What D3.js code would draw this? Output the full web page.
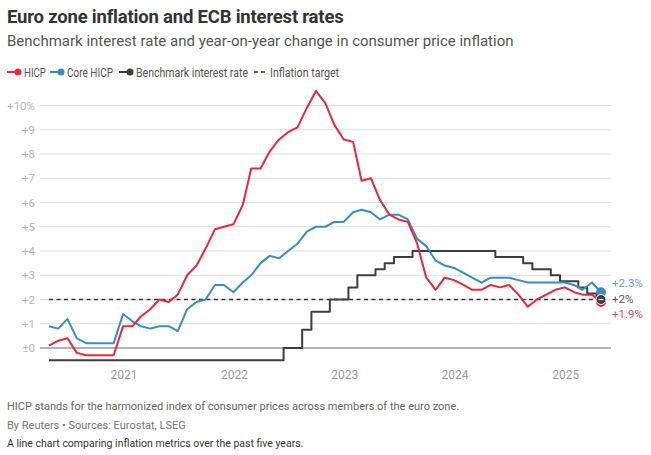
<!DOCTYPE html>
<html lang="en">
<head>
  <meta charset="UTF-8">
  <title>Euro zone inflation and ECB interest rates</title>
  <style>
    body {
      margin: 0;
      background: #fff;
      font-family: Roboto, "Noto Sans", sans-serif;
    }
    svg { display: block; }
    .grid line { stroke: #dcdcdc; stroke-width: 1; }
    .ytick { fill: #b5b5b5; font-size: 11.5px; }
    .xtick { fill: #9a9a9a; font-size: 12px; }
    .series { fill: none; stroke-width: 2; stroke-linejoin: round; }
  </style>
</head>
<body>
  <svg width="651" height="455"></svg>
  <script src="https://d3js.org/d3.v7.min.js"></script>
  <script>
    // monthly values, May 2020 .. May 2025
    const startMonth = new Date(2020, 4, 1);

    const hicp = [
      0.1, 0.3, 0.4, -0.2, -0.3, -0.3, -0.3, -0.3,
      0.9, 0.9, 1.3, 1.6, 2.0, 1.9, 2.2, 3.0, 3.4, 4.1, 4.9, 5.0,
      5.1, 5.9, 7.4, 7.4, 8.1, 8.6, 8.9, 9.1, 9.9, 10.6, 10.1, 9.2,
      8.6, 8.5, 6.9, 7.0, 6.1, 5.5, 5.3, 5.2, 4.3, 2.9, 2.4, 2.9,
      2.8, 2.6, 2.4, 2.4, 2.6, 2.5, 2.6, 2.2, 1.7, 2.0, 2.2, 2.4,
      2.5, 2.3, 2.2, 2.2, 1.9
    ];

    const coreHicp = [
      0.9, 0.8, 1.2, 0.4, 0.2, 0.2, 0.2, 0.2,
      1.4, 1.1, 0.9, 0.8, 0.9, 0.9, 0.7, 1.6, 1.9, 2.0, 2.6, 2.6,
      2.3, 2.7, 3.0, 3.5, 3.8, 3.7, 4.0, 4.3, 4.8, 5.0, 5.0, 5.2,
      5.2, 5.6, 5.7, 5.6, 5.3, 5.5, 5.5, 5.3, 4.5, 4.2, 3.6, 3.4,
      3.3, 3.1, 2.9, 2.7, 2.9, 2.9, 2.9, 2.8, 2.7, 2.7, 2.7, 2.7,
      2.7, 2.6, 2.4, 2.7, 2.3
    ];

    const benchmark = [
      -0.5, -0.5, -0.5, -0.5, -0.5, -0.5, -0.5, -0.5,
      -0.5, -0.5, -0.5, -0.5, -0.5, -0.5, -0.5, -0.5, -0.5, -0.5, -0.5, -0.5,
      -0.5, -0.5, -0.5, -0.5, -0.5, -0.5, 0, 0, 0.75, 1.5, 1.5, 2.0,
      2.0, 2.5, 3.0, 3.0, 3.25, 3.5, 3.75, 3.75, 4.0, 4.0, 4.0, 4.0,
      4.0, 4.0, 4.0, 4.0, 4.0, 3.75, 3.75, 3.75, 3.5, 3.25, 3.25, 3.0,
      2.75, 2.75, 2.5, 2.25, 2.0
    ];

    const inflationTarget = 2;
    const yTicks = [0, 1, 2, 3, 4, 5, 6, 7, 8, 9, 10];
    const yearTicks = [2021, 2022, 2023, 2024, 2025];

    const colors = { hicp: "#e8283c", core: "#3a8bcb", bench: "#3d3d3d" };

    const months = hicp.map((_, i) => new Date(2020, 4 + i, 1));

    const svg = d3.select("svg");

    const x = d3.scaleTime()
      .domain([startMonth, months[months.length - 1]])
      .range([49, 601]);

    const y = d3.scaleLinear()
      .domain([0, 10])
      .range([348, 105.5]);

    // titles
    svg.append("text").attr("x", 7).attr("y", 23)
      .attr("font-size", 18.5).attr("font-weight", 700).attr("fill", "#333")
      .attr("letter-spacing", -0.2)
      .text("Euro zone inflation and ECB interest rates");
    svg.append("text").attr("x", 7).attr("y", 46)
      .attr("font-size", 15).attr("fill", "#555")
      .text("Benchmark interest rate and year-on-year change in consumer price inflation");

    // legend (reference font is narrow, so labels are squeezed to its widths)
    const legend = svg.append("g").attr("transform", "translate(0,72)");
    const legendItems = [
      { label: "HICP", color: colors.hicp, x: 7, w: 22 },
      { label: "Core HICP", color: colors.core, x: 50, w: 46 },
      { label: "Benchmark interest rate", color: colors.bench, x: 119, w: 112 }
    ];
    legendItems.forEach(d => {
      legend.append("line").attr("x1", d.x).attr("x2", d.x + 12)
        .attr("stroke", d.color).attr("stroke-width", 2);
      legend.append("circle").attr("cx", d.x + 11).attr("r", 3.5).attr("fill", d.color);
      legend.append("text").attr("x", d.x + 17).attr("y", 4.5)
        .attr("font-size", 13).attr("fill", "#555")
        .attr("textLength", d.w).attr("lengthAdjust", "spacingAndGlyphs")
        .text(d.label);
    });
    legend.append("line").attr("x1", 254).attr("x2", 266)
      .attr("stroke", "#333").attr("stroke-width", 1.5).attr("stroke-dasharray", "4,3");
    legend.append("text").attr("x", 270).attr("y", 4.5)
      .attr("font-size", 13).attr("fill", "#555")
      .attr("textLength", 69).attr("lengthAdjust", "spacingAndGlyphs")
      .text("Inflation target");

    // grid + y labels
    const grid = svg.append("g").attr("class", "grid");
    grid.selectAll("line").data(yTicks).join("line")
      .attr("x1", 40).attr("x2", 611)
      .attr("y1", d => y(d)).attr("y2", d => y(d))
      .style("stroke", d => d === 0 ? "#9a9a9a" : null)
      .style("stroke-width", d => d === 0 ? 1.3 : null);

    svg.append("g").selectAll("text").data(yTicks).join("text")
      .attr("class", "ytick")
      .attr("x", 35).attr("y", d => y(d) + 4)
      .attr("text-anchor", "end")
      .text(d => d === 0 ? "±0" : d === 10 ? "+10%" : "+" + d);

    // x labels
    svg.append("g").selectAll("text").data(yearTicks).join("text")
      .attr("class", "xtick")
      .attr("x", d => x(new Date(d, 0, 1)) + 1)
      .attr("y", 379)
      .attr("text-anchor", "middle")
      .text(d => d);

    // inflation target
    svg.append("line")
      .attr("x1", x(startMonth)).attr("x2", x(months[months.length - 1]))
      .attr("y1", y(inflationTarget)).attr("y2", y(inflationTarget))
      .attr("stroke", "#333").attr("stroke-width", 1.5).attr("stroke-dasharray", "4,3.5");

    // series
    const line = d3.line().x((d, i) => x(months[i])).y(d => y(d));
    const stepLine = d3.line().curve(d3.curveStep).x((d, i) => x(months[i])).y(d => y(d));

    svg.append("path").datum(benchmark).attr("class", "series")
      .attr("stroke", colors.bench).attr("d", stepLine);
    svg.append("path").datum(coreHicp).attr("class", "series")
      .attr("stroke", colors.core).attr("d", line);
    svg.append("path").datum(hicp).attr("class", "series")
      .attr("stroke", colors.hicp).attr("d", line);

    // end markers
    const last = months.length - 1;
    const lx = x(months[last]);
    svg.append("circle").attr("cx", lx).attr("cy", y(coreHicp[last])).attr("r", 5)
      .attr("fill", colors.core);
    svg.append("circle").attr("cx", lx).attr("cy", y(hicp[last])).attr("r", 5)
      .attr("fill", colors.hicp);
    svg.append("circle").attr("cx", lx).attr("cy", y(benchmark[last])).attr("r", 5)
      .attr("fill", colors.bench).attr("stroke", "#fff").attr("stroke-width", 1);
    svg.append("line").attr("x1", lx - 2.5).attr("x2", lx + 2.5)
      .attr("y1", y(benchmark[last])).attr("y2", y(benchmark[last]))
      .attr("stroke", "#ddd").attr("stroke-width", 1.2);

    const endLabels = [
      { v: coreHicp[last], dy: -17, color: "#5b9fd6" },
      { v: benchmark[last], dy: -1, color: "#555" },
      { v: hicp[last], dy: 14, color: "#ea4a5e" }
    ];
    endLabels.forEach(d => {
      svg.append("text")
        .attr("x", 612).attr("y", y(inflationTarget) + d.dy + 4)
        .attr("font-size", 11.5).attr("fill", d.color)
        .text("+" + d.v + "%");
    });

    // footer
    svg.append("text").attr("x", 7).attr("y", 410)
      .attr("font-size", 11).attr("fill", "#666")
      .text("HICP stands for the harmonized index of consumer prices across members of the euro zone.");
    svg.append("text").attr("x", 7).attr("y", 429)
      .attr("font-size", 11).attr("fill", "#777")
      .text("By Reuters \u2022 Sources: Eurostat, LSEG");
    svg.append("text").attr("x", 7).attr("y", 447)
      .attr("font-size", 10.5).attr("fill", "#333")
      .text("A line chart comparing inflation metrics over the past five years.");
  </script>
</body>
</html>
